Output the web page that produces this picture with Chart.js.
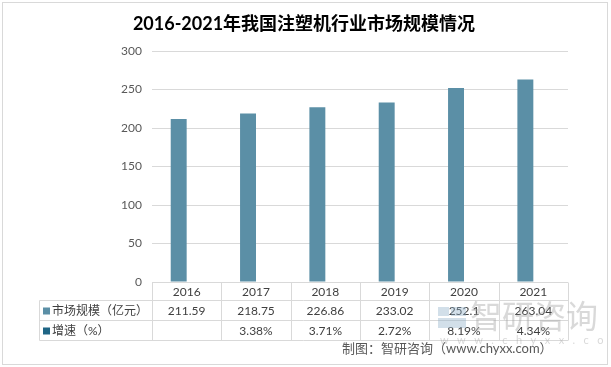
<!DOCTYPE html>
<html>
<head>
<meta charset="utf-8">
<script src="https://cdn.jsdelivr.net/npm/chart.js@4"></script>
<style>
  html, body { margin: 0; padding: 0; background: #ffffff; }
  #wrap { width: 611px; height: 367px; }
</style>
</head>
<body>
<div id="wrap"><canvas id="grafica" width="611" height="367"></canvas></div>
<script>
// datos del gráfico
var years = ["2016", "2017", "2018", "2019", "2020", "2021"];
var marketSize = [211.59, 218.75, 226.86, 233.02, 252.1, 263.04]; // 亿元
var growthRate = [null, 3.38, 3.71, 2.72, 8.19, 4.34]; // %
var sizeLabels = ["211.59", "218.75", "226.86", "233.02", "252.1", "263.04"];
var growthLabels = ["", "3.38%", "3.71%", "2.72%", "8.19%", "4.34%"];
var yTicks = [0, 50, 100, 150, 200, 250, 300];

var titleText = "2016-2021年我国注塑机行业市场规模情况";
var rowNames = ["市场规模（亿元）", "增速（%）"];
var keyColors = ["#5b8fa6", "#1f6585"];
var sourceText = "制图：智研咨询（www.chyxx.com）";

var FONT = "Lato, 'Noto Sans CJK SC', sans-serif";

// tabla de datos debajo del eje (como en Excel)
var dataTablePlugin = {
    id: "dataTable",
    beforeDraw: function (chart) {
        var c = chart.ctx;
        c.save();
        c.strokeStyle = "#d9d9d9";
        c.lineWidth = 1;
        c.strokeRect(2.5, 2.5, 605, 362);
        // título centrado en todo el lienzo
        c.fillStyle = "#000000";
        c.font = "bold 18px " + FONT;
        c.textAlign = "center";
        c.textBaseline = "middle";
        c.fillText(titleText, 304, 24);
        c.restore();
    },
    afterDraw: function (chart) {
        var c = chart.ctx;
        var x = chart.scales.x;
        var area = chart.chartArea;
        var colW = (area.right - area.left) / years.length;
        var top = Math.round(area.bottom) + 0.5;
        var rowH = [18, 20, 20];
        var r1 = top + rowH[0], r2 = r1 + rowH[1], r3 = r2 + rowH[2];
        var leftCell = 39.5;

        c.save();
        c.strokeStyle = "#d9d9d9";
        c.lineWidth = 1;
        c.beginPath();
        // líneas horizontales
        c.moveTo(area.left, top); c.lineTo(area.right, top);
        [r1, r2, r3].forEach(function (y) {
            c.moveTo(leftCell, y); c.lineTo(area.right, y);
        });
        // líneas verticales
        c.moveTo(leftCell, r1); c.lineTo(leftCell, r3);
        for (var i = 0; i <= years.length; i++) {
            var px = Math.round(area.left + i * colW) + 0.5;
            c.moveTo(px, top); c.lineTo(px, r3);
        }
        c.stroke();

        c.fillStyle = "#404040";
        c.font = "12px " + FONT;
        c.textAlign = "center";
        c.textBaseline = "middle";
        years.forEach(function (yr, i) {
            var cx = x.getPixelForValue(i);
            c.fillText(yr, cx, top + rowH[0] / 2 + 1);
            c.fillText(sizeLabels[i], cx, r1 + rowH[1] / 2 + 1);
            c.fillText(growthLabels[i], cx, r2 + rowH[2] / 2 + 1);
        });

        // nombres de las filas con su clave de color
        c.textAlign = "left";
        rowNames.forEach(function (name, j) {
            var cy = (j === 0 ? r1 : r2) + 10;
            c.fillStyle = keyColors[j];
            c.fillRect(43, cy - 3, 7, 7);
            c.fillStyle = "#404040";
            c.fillText(name, 52, cy + 1);
        });

        // marca de agua
        c.globalAlpha = 0.4;
        c.fillStyle = "#8fb0c8";
        c.fillRect(438, 307, 11, 9);
        c.fillRect(451, 307, 15, 9);
        c.fillRect(438, 318, 28, 10);
        c.fillStyle = "#a0a0a0";
        c.font = "32px 'Noto Sans CJK SC', sans-serif";
        c.fillText("智研咨询", 470, 316);
        c.font = "11px " + FONT;
        c.fillText("w   w   w   .   c   h   y   x   x   .   c   o   m", 440, 340);
        c.globalAlpha = 1;

        // fuente
        c.fillStyle = "#595959";
        c.font = "13px " + FONT;
        c.fillText(sourceText, 342, 349);
        c.restore();
    }
};

var ctx = document.getElementById("grafica").getContext("2d");
var chart = new Chart(ctx, {
    type: "bar",
    data: {
        labels: years,
        datasets: [
            {
                label: rowNames[0],
                data: marketSize,
                backgroundColor: keyColors[0],
                categoryPercentage: 0.46,
                barPercentage: 1.0
            },
            {
                label: rowNames[1],
                data: growthRate,
                backgroundColor: "rgba(0,0,0,0)", // sin relleno, igual que el original
                categoryPercentage: 0.46,
                barPercentage: 1.0
            }
        ]
    },
    options: {
        responsive: false,
        animation: false,
        layout: { padding: { left: 0, right: 43, top: 51, bottom: 85 } },
        plugins: {
            legend: { display: false },
            tooltip: { enabled: false },
            title: { display: false }
        },
        scales: {
            x: { display: false },
            y: {
                min: 0,
                max: 300,
                afterFit: function (scale) { scale.width = 152; },
                afterBuildTicks: function (scale) {
                    scale.ticks = yTicks.map(function (v) { return { value: v }; });
                },
                grid: { color: "#d9d9d9", drawTicks: false },
                border: { display: false },
                ticks: {
                    padding: 10,
                    color: "#595959",
                    font: { family: FONT, size: 12 }
                }
            }
        }
    },
    plugins: [dataTablePlugin]
});
</script>
</body>
</html>
